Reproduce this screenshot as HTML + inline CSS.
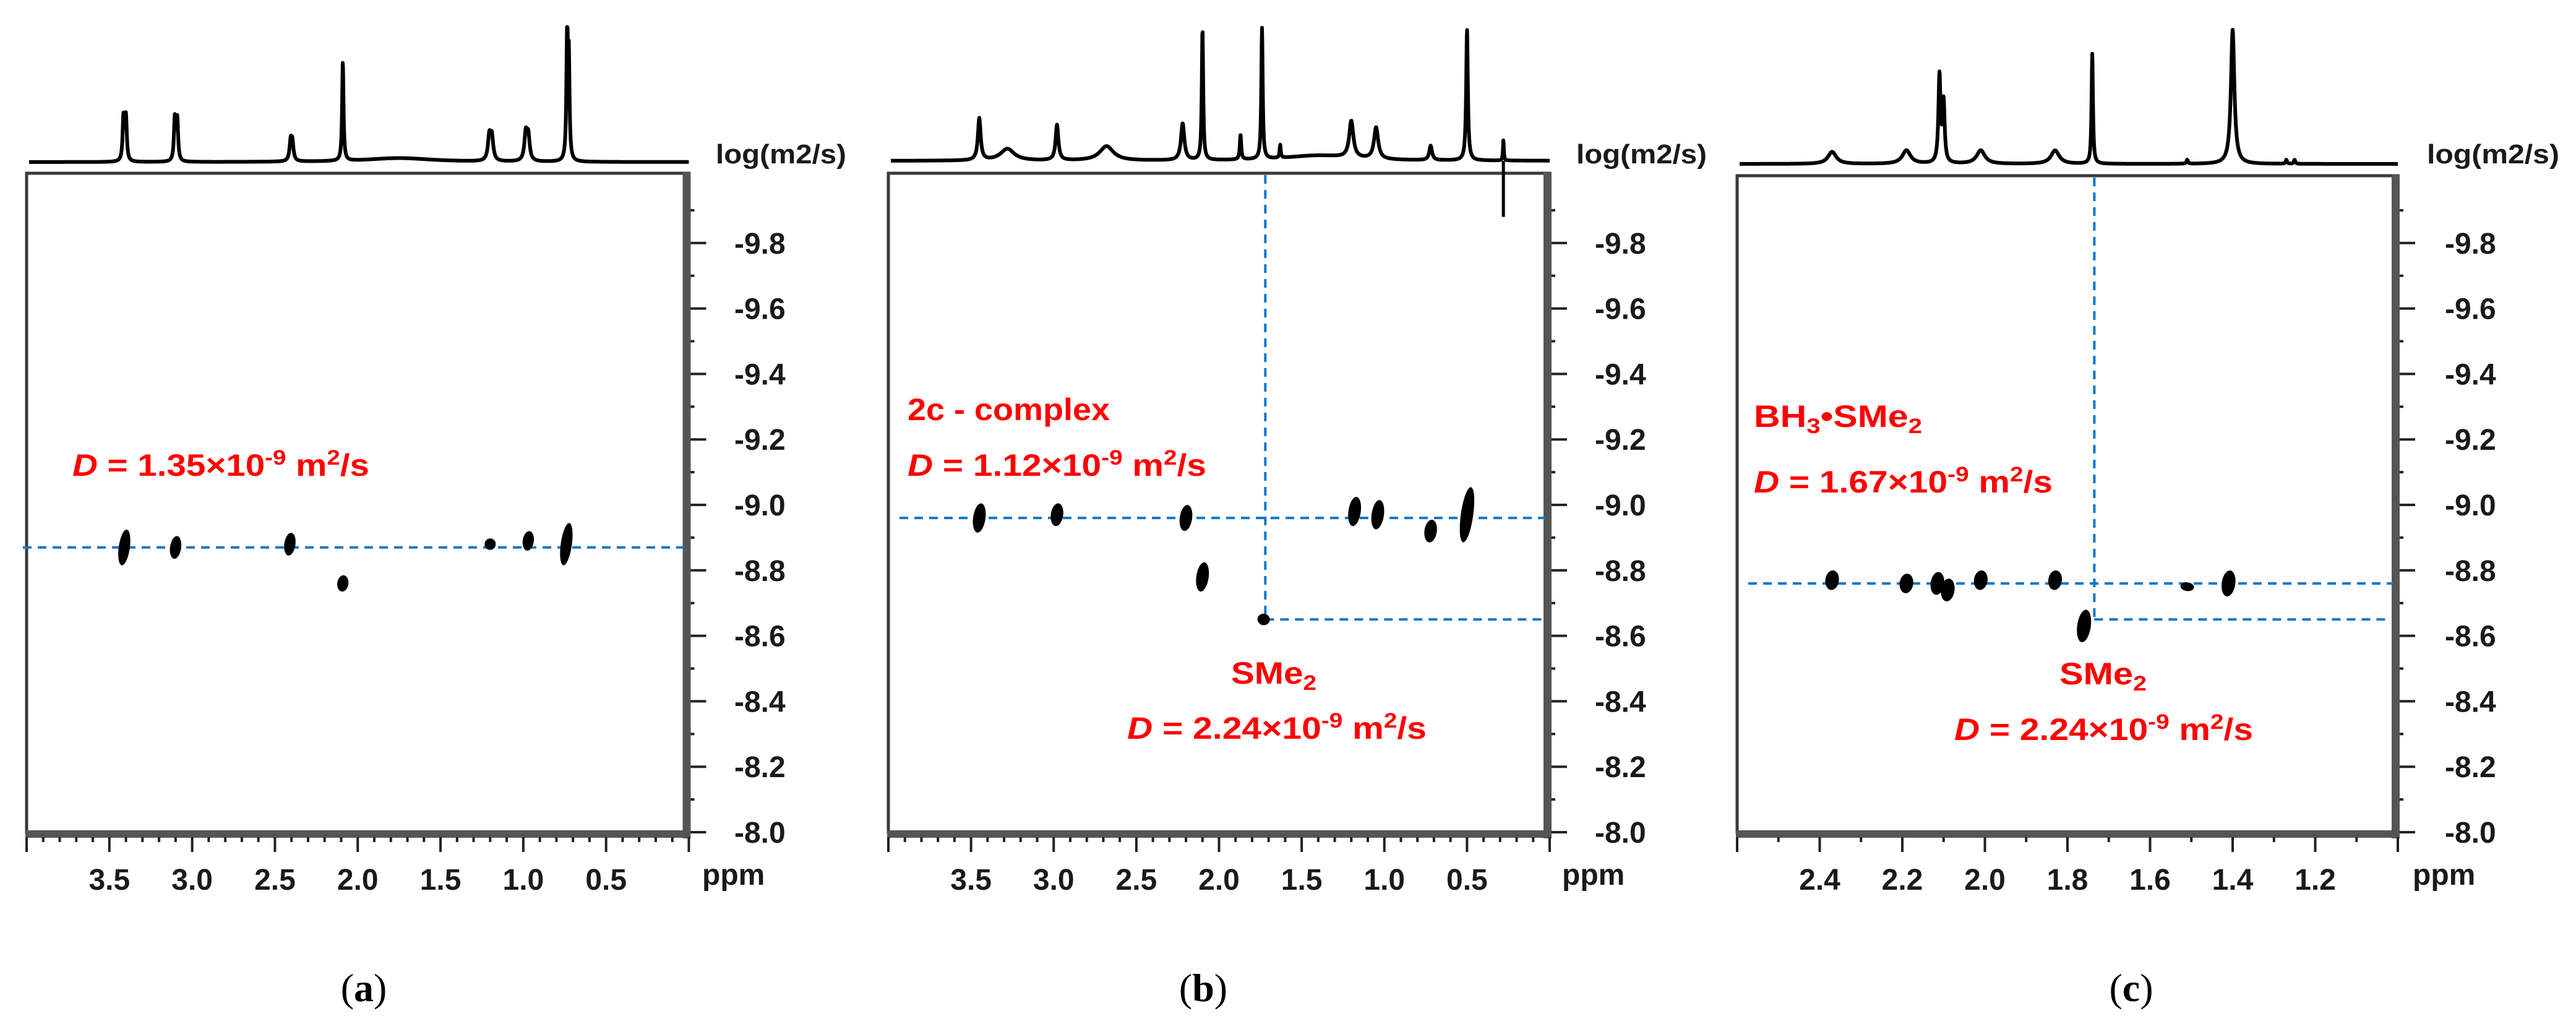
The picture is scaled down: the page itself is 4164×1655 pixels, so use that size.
<!DOCTYPE html>
<html><head><meta charset="utf-8"><title>DOSY spectra</title>
<style>
html,body{margin:0;padding:0;background:#fff;}
svg{display:block;}
text{font-family:"Liberation Sans",Arial,sans-serif;}
</style></head>
<body>
<svg id="fig" xmlns="http://www.w3.org/2000/svg" width="4164" height="1655" viewBox="0 0 4164 1655">
<rect x="0" y="0" width="4164" height="1655" fill="#fff"/>
</svg>
<script>
// ---------- data: panel (a) ----------
const aPeakPpm = [3.415, 3.400, 3.105, 3.090, 2.405, 2.395, 2.09, 1.75, 1.205, 1.19, 0.985, 0.97, 0.735, 0.725];
const aPeakHeight = [0.33, 0.33, 0.32, 0.31, 0.14, 0.13, 0.75, 0.03, 0.18, 0.17, 0.20, 0.18, 1.00, 0.72];
const aPeakWidth = [0.006, 0.006, 0.006, 0.006, 0.008, 0.008, 0.005, 0.25, 0.01, 0.01, 0.01, 0.01, 0.005, 0.005];
const aSpotPpm = [3.41, 3.10, 2.41, 2.09, 1.20, 0.97, 0.74];
const aSpotLogD = [-8.87, -8.87, -8.88, -8.76, -8.88, -8.89, -8.88];
const aSpotSpan = [0.11, 0.07, 0.07, 0.05, 0.035, 0.06, 0.13];
const aLineLogD = [-8.87];
// ---------- data: panel (b) ----------
const bPeakPpm = [3.45, 3.28, 2.98, 2.68, 2.22, 2.10, 1.87, 1.74, 1.63, 1.40, 1.20, 1.05, 0.72, 0.50, 0.28];
const bPeakHeight = [0.32, 0.09, 0.27, 0.11, 0.28, 1.00, 0.19, 1.00, 0.10, 0.04, 0.28, 0.24, 0.11, 1.00, 0.16];
const bPeakWidth = [0.01, 0.05, 0.01, 0.05, 0.012, 0.005, 0.005, 0.005, 0.004, 0.25, 0.015, 0.015, 0.01, 0.006, 0.003];
const bSpotPpm = [3.45, 2.98, 2.20, 2.10, 1.73, 1.18, 1.04, 0.72, 0.50];
const bSpotLogD = [-8.96, -8.97, -8.96, -8.78, -8.65, -8.98, -8.97, -8.92, -8.97];
const bSpotSpan = [0.09, 0.07, 0.08, 0.09, 0.035, 0.09, 0.09, 0.07, 0.17];
const bLineLogD = [-8.96, -8.65];
const bLinePpm = [1.72];
// ---------- data: panel (c) ----------
const cPeakPpm = [2.37, 2.19, 2.11, 2.10, 2.01, 1.83, 1.74, 1.51, 1.40, 1.27, 1.25];
const cPeakHeight = [0.09, 0.10, 0.65, 0.45, 0.10, 0.10, 0.82, 0.03, 1.00, 0.03, 0.03];
const cPeakWidth = [0.012, 0.012, 0.003, 0.003, 0.012, 0.012, 0.002, 0.002, 0.005, 0.002, 0.002];
const cSpotPpm = [2.37, 2.19, 2.115, 2.09, 2.01, 1.83, 1.76, 1.51, 1.41];
const cSpotLogD = [-8.77, -8.76, -8.76, -8.74, -8.77, -8.77, -8.63, -8.75, -8.76];
const cSpotSpan = [0.06, 0.06, 0.07, 0.07, 0.06, 0.06, 0.10, 0.01, 0.08];
const cLineLogD = [-8.76, -8.65];
const cLinePpm = [1.735];
// ---------- axis ticks ----------
const yTickValues = [-9.8, -9.6, -9.4, -9.2, -9.0, -8.8, -8.6, -8.4, -8.2, -8.0];
const yTickLabels = ["-9.8", "-9.6", "-9.4", "-9.2", "-9.0", "-8.8", "-8.6", "-8.4", "-8.2", "-8.0"];
const abXTickValues = [3.5, 3.0, 2.5, 2.0, 1.5, 1.0, 0.5];
const abXTickLabels = ["3.5", "3.0", "2.5", "2.0", "1.5", "1.0", "0.5"];
const cXTickValues = [2.4, 2.2, 2.0, 1.8, 1.6, 1.4, 1.2];
const cXTickLabels = ["2.4", "2.2", "2.0", "1.8", "1.6", "1.4", "1.2"];

const NS = "http://www.w3.org/2000/svg";
const svg = document.getElementById("fig");
function mk(tag, attrs, parent) {
  const e = document.createElementNS(NS, tag);
  for (const k in attrs) e.setAttribute(k, attrs[k]);
  (parent || svg).appendChild(e);
  return e;
}
const yBottom = 1345, yPerUnit = 529;
function yScale(v) { return yBottom + (v + 8) * yPerUnit; }

const panels = [
  {id: "a", left: 43, right: 1113.5, top: 280, ppmMax: 4.0, ppmMin: 0.0, base: 262, specTop: 48,
   peaks: [aPeakPpm, aPeakHeight, aPeakWidth], spots: [aSpotPpm, aSpotLogD, aSpotSpan], hLines: aLineLogD, vLines: [],
   xt: abXTickValues, xl: abXTickLabels, minor: 0.1, spotW: 9, labelX: 1187, logX: 1157, logW: 211, ppmX: 1135, capX: 588},
  {id: "b", left: 1436, right: 2505, top: 280, ppmMax: 4.0, ppmMin: 0.0, base: 260, specTop: 48,
   peaks: [bPeakPpm, bPeakHeight, bPeakWidth], spots: [bSpotPpm, bSpotLogD, bSpotSpan], hLines: bLineLogD, vLines: bLinePpm,
   xt: abXTickValues, xl: abXTickLabels, minor: 0.1, spotW: 10, labelX: 2578, logX: 2548, logW: 211, ppmX: 2525, capX: 1945},
  {id: "c", left: 2808, right: 3876, top: 284, ppmMax: 2.6, ppmMin: 1.0, base: 265, specTop: 48,
   peaks: [cPeakPpm, cPeakHeight, cPeakWidth], spots: [cSpotPpm, cSpotLogD, cSpotSpan], hLines: cLineLogD, vLines: cLinePpm,
   xt: cXTickValues, xl: cXTickLabels, minor: 0.1, spotW: 11, labelX: 3952, logX: 3923, logW: 214, ppmX: 3900, capX: 3445}
];

panels.forEach(p => {
  const g = mk("g", {});
  
  
  const xScale = v => p.left + (p.ppmMax - v) / (p.ppmMax - p.ppmMin) * (p.right - p.left);
  const [pp, ph, pw] = p.peaks;
  const hpx = p.base - p.specTop;
  let d = "";
  for (let x = p.left + 4; x <= p.right; x += 0.5) {
    const v = p.ppmMax - (x - p.left) / (p.right - p.left) * (p.ppmMax - p.ppmMin);
    let s = 0;
    for (let i = 0; i < pp.length; i++) { const t = (v - pp[i]) / pw[i]; s += ph[i] / (1 + t * t); }
    d += (d ? "L" : "M") + x.toFixed(1) + " " + (p.base - Math.min(s, 1.02) * hpx).toFixed(1);
  }
  const spec = mk("path", {d: d, fill: "none", stroke: "#000", "stroke-width": 6, "stroke-linejoin": "round"}, g);
  
  
  const fr = mk("g", {}, g);
  
  
  mk("rect", {x: p.left, y: p.top, width: p.right - p.left, height: yBottom - p.top, fill: "none", stroke: "#3a3a3a", "stroke-width": 5}, fr);
  mk("rect", {x: p.right - 10, y: p.top - 2, width: 13, height: yBottom - p.top + 12, fill: "#555"}, fr);
  mk("rect", {x: p.left - 2, y: yBottom - 3, width: p.right - p.left + 5, height: 12, fill: "#555"}, fr);
  const ya = mk("g", {}, g);
  
  
  for (let v = -9.9; v <= -7.95; v += 0.1) {
    const y = yScale(v);
    const major = Math.abs(Math.round(v * 5) - v * 5) < 0.01;
    mk("line", {x1: p.right + 3, x2: p.right + (major ? 28 : 9), y1: y, y2: y, stroke: "#222", "stroke-width": 4}, ya);
  }
  yTickValues.forEach((v, i) => {
    const t = mk("text", {x: p.labelX, y: yScale(v) + 17, "font-size": 48, "font-weight": "bold", fill: "#1a1a1a"}, ya);
    t.textContent = yTickLabels[i];
    
    
  });
  const lt = mk("text", {x: p.logX, y: 264, "font-size": 44, "font-weight": "bold", fill: "#1a1a1a", textLength: p.logW, lengthAdjust: "spacingAndGlyphs"}, g);
  lt.textContent = "log(m2/s)";
  
  
  const xa = mk("g", {}, g);
  
  
  const nMinor = Math.round((p.ppmMax - p.ppmMin) / p.minor);
  for (let k = 0; k <= nMinor; k++) {
    const v = p.ppmMin + k * p.minor;
    const major = p.xt.some(t => Math.abs(t - v) < 1e-6) || k === 0 || k === nMinor;
    mk("line", {x1: xScale(v), x2: xScale(v), y1: yBottom + 8, y2: yBottom + (major ? 32 : 16), stroke: "#222", "stroke-width": 4}, xa);
  }
  p.xt.forEach((v, i) => {
    const t = mk("text", {x: xScale(v), y: 1438, "font-size": 48, "font-weight": "bold", fill: "#1a1a1a", "text-anchor": "middle"}, xa);
    t.textContent = p.xl[i];
    
    
  });
  const pt = mk("text", {x: p.ppmX, y: 1430, "font-size": 48, "font-weight": "bold", fill: "#1a1a1a"}, g);
  pt.textContent = "ppm";
  
  
  const dash = {stroke: "#0a78cc", "stroke-width": 4, "stroke-dasharray": "14 10", fill: "none"};
  if (p.vLines.length) {
    const vx = xScale(p.vLines[0]);
    const vl = mk("line", Object.assign({x1: vx, x2: vx, y1: p.top + 3, y2: yScale(p.hLines[1]) + 2}, dash), g);
    
    
    const hl2 = mk("line", Object.assign({x1: vx, x2: p.right - 12, y1: yScale(p.hLines[1]), y2: yScale(p.hLines[1])}, dash), g);
    
    
  }
  const hl = mk("line", Object.assign({x1: p.left + (p.id === "a" ? -6 : 18), x2: p.right - 8, y1: yScale(p.hLines[0]), y2: yScale(p.hLines[0])}, dash), g);
  
  
  const [sp, sd, ss] = p.spots;
  sp.forEach((v, i) => {
    const ry = Math.max(ss[i] * yPerUnit / 2, 7);
    const e = mk("ellipse", {cx: xScale(v), cy: yScale(sd[i]), rx: p.spotW, ry: ry, fill: "#000",
      transform: "rotate(8 " + xScale(v) + " " + yScale(sd[i]) + ")"}, g);
    
    
  });
  if (p.id === "b") {
    const ax = xScale(bPeakPpm[14]);
    const art = mk("line", {x1: ax, x2: ax, y1: p.top - 20, y2: yScale(-9.88), stroke: "#000", "stroke-width": 5}, g);
    
    
  }
  const cap = mk("text", {x: p.capX, y: 1618, "font-size": 64, "text-anchor": "middle", fill: "#000", style: "font-family:'Liberation Serif',serif"}, g);
  cap.innerHTML = '(<tspan font-weight="bold">' + p.id + '</tspan>)';
  
  
});

function redLabel(x, y, w, html, name) {
  const t = mk("text", {x: x, y: y, "font-size": 50, "font-weight": "bold", fill: "#ff0000", textLength: w, lengthAdjust: "spacingAndGlyphs"});
  t.innerHTML = html;
  
  
}
const dLab = v => '<tspan font-style="italic">D</tspan> = ' + v + '×10<tspan dy="-18" font-size="34">-9</tspan><tspan dy="18"> m</tspan><tspan dy="-18" font-size="34">2</tspan><tspan dy="18">/s</tspan>';
redLabel(117, 769, 480, dLab("1.35"), "diffusion-label-a");
redLabel(1467, 679, 327, '2c - complex', "complex-label-b");
redLabel(1467, 769, 483, dLab("1.12"), "diffusion-label-b");
redLabel(1990, 1105, 138, 'SMe<tspan dy="10" font-size="34">2</tspan>', "sme2-label-b");
redLabel(1822, 1194, 484, dLab("2.24"), "sme2-diffusion-label-b");
redLabel(2835, 690, 272, 'BH<tspan dy="10" font-size="34">3</tspan><tspan dy="-10">•SMe</tspan><tspan dy="10" font-size="34">2</tspan>', "bh3-label-c");
redLabel(2835, 796, 483, dLab("1.67"), "diffusion-label-c");
redLabel(3329, 1106, 141, 'SMe<tspan dy="10" font-size="34">2</tspan>', "sme2-label-c");
redLabel(3159, 1196, 483, dLab("2.24"), "sme2-diffusion-label-c");
</script>
</body></html>
